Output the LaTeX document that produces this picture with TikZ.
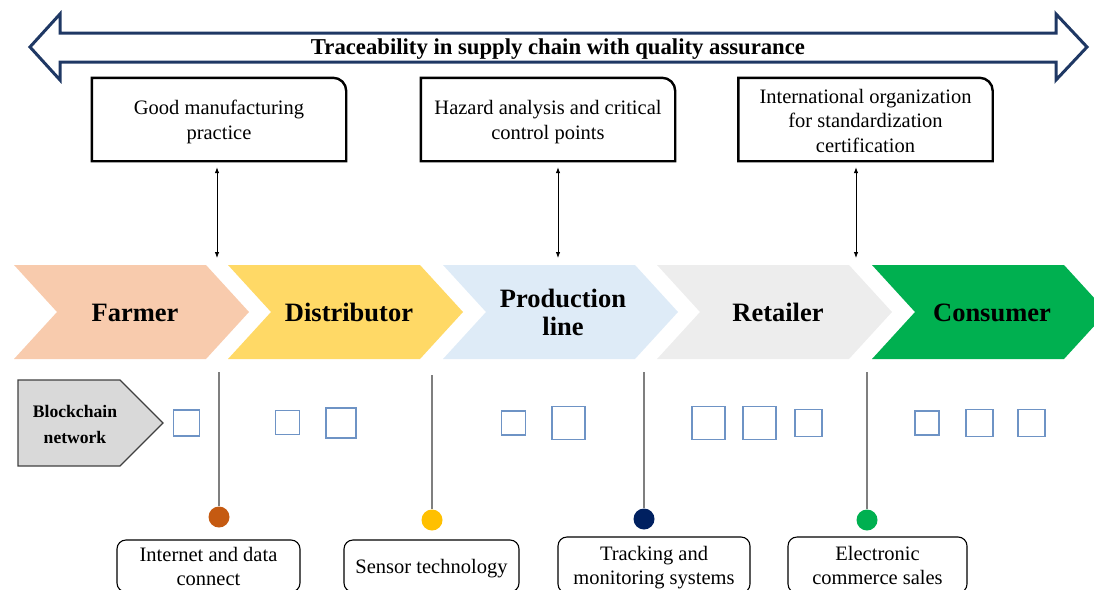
\documentclass[tikz,border=0pt]{standalone}
\usepackage{fontspec}
\setmainfont{Liberation Serif}
\usetikzlibrary{arrows.meta}
\definecolor{navyline}{HTML}{1F3864}
\definecolor{farmerc}{HTML}{F8CBAD}
\definecolor{distc}{HTML}{FFD966}
\definecolor{prodc}{HTML}{DEEBF7}
\definecolor{retailc}{HTML}{EDEDED}
\definecolor{consc}{HTML}{00B050}
\definecolor{sqblue}{HTML}{6E93C5}
\definecolor{glinec}{HTML}{7F7F7F}
\definecolor{bcfill}{HTML}{D9D9D9}
\definecolor{dotA}{HTML}{C55A11}
\definecolor{dotB}{HTML}{FFC000}
\definecolor{dotC}{HTML}{002060}
\definecolor{dotD}{HTML}{00B050}
\begin{document}
\begin{tikzpicture}[x=1pt,y=-1pt,
  topbox/.style={minimum width=254pt,minimum height=83pt,inner sep=0pt,align=center,font=\fontsize{20.5}{24.5}\selectfont},
  boxline/.style={draw=black,line width=2.4pt,line join=miter},
  chevlabel/.style={font=\bfseries\fontsize{26.5}{28}\selectfont,align=center,inner sep=0pt},
  varrow/.style={arrows={Latex[length=6pt,width=4.5pt]-Latex[length=6pt,width=4.5pt]},line width=0.8pt,black},
  sq/.style={draw=sqblue,line width=1.5pt,inner sep=0pt,minimum size=#1},
  gline/.style={draw=glinec,line width=1.3pt},
  dot/.style={circle,inner sep=0pt,minimum size=21pt,draw=none},
  botbox/.style={draw=black,line width=1.1pt,rounded corners=9pt,inner sep=0pt,align=center,font=\fontsize{20.5}{24}\selectfont}
]
\useasboundingbox (0,0) rectangle (1094,589);
\clip (0,0) rectangle (1094,589);

% top double arrow
\draw[navyline,line width=3pt,fill=white,line join=miter]
  (30,47) -- (60,14) -- (60,33) -- (1056,33) -- (1056,14) -- (1087,47)
  -- (1056,80) -- (1056,62) -- (60,62) -- (60,80) -- cycle;
\node[font=\bfseries\fontsize{22.7}{26}\selectfont,inner sep=0pt,anchor=base] (title) at (558,54.5) {Traceability in supply chain with quality assurance};

% top boxes
\node[topbox] (gmp) at (219,119.5) {};
\node[topbox] (haccp) at (548,119.5) {};
\node[topbox] (iso) at (865.5,119.5) {};
\node[topbox,minimum width=0pt,minimum height=0pt] (gmpt) at (219,122) {Good manufacturing\\practice};
\node[topbox,minimum width=0pt,minimum height=0pt] (haccpt) at (548,122) {Hazard analysis and critical\\control points};
\node[topbox,minimum width=0pt,minimum height=0pt] (isot) at (865.5,120.5) {International organization\\for standardization\\certification};
\foreach \b in {gmp,haccp,iso}{
  \draw[boxline] (\b.south west) -- (\b.north west) -- ([xshift=-13pt]\b.north east)
    arc[start angle=90,end angle=0,radius=13pt] -- (\b.south east) -- cycle;
}

% chevrons
\fill[farmerc] (14,265) -- (206,265) -- (249,312) -- (206,359) -- (14,359) -- (57,312) -- cycle;
\fill[distc] (228,265) -- (420,265) -- (463,312) -- (420,359) -- (228,359) -- (271,312) -- cycle;
\fill[prodc] (443,265) -- (635,265) -- (678,312) -- (635,359) -- (443,359) -- (486,312) -- cycle;
\fill[retailc] (657,265) -- (849,265) -- (892,312) -- (849,359) -- (657,359) -- (700,312) -- cycle;
\fill[consc] (872,265) -- (1064,265) -- (1107,312) -- (1064,359) -- (872,359) -- (915,312) -- cycle;
\node[chevlabel] (farmer) at (135,312.5) {Farmer};
\node[chevlabel] (distributor) at (349,312.5) {Distributor};
\node[chevlabel] (production) at (563,312.5) {Production\\line};
\node[chevlabel] (retailer) at (778,312.5) {Retailer};
\node[chevlabel] (consumer) at (992,312.5) {Consumer};

% vertical arrows from standards
\coordinate (ct1) at (217,258);
\coordinate (ct2) at (558,258);
\coordinate (ct3) at (856,258);
\draw[varrow] ([yshift=-6pt]ct1 |- gmp.south) -- (ct1);
\draw[varrow] ([yshift=-6pt]ct2 |- haccp.south) -- (ct2);
\draw[varrow] ([yshift=-6pt]ct3 |- iso.south) -- (ct3);

% blockchain network
\draw[draw=black!75,line width=1.1pt,fill=bcfill,line join=miter]
  (18,380) -- (120,380) -- (163,423) -- (120,466) -- (18,466) -- cycle;
\node[font=\bfseries\fontsize{17.6}{26}\selectfont,align=center,inner sep=0pt] (bc) at (75,424) {Blockchain\\network};

% squares
\node[sq=26pt] (s1) at (186.5,423) {};
\node[sq=24pt] (s2) at (287.5,422.5) {};
\node[sq=30pt] (s3) at (341,423) {};
\node[sq=24pt] (s4) at (513.5,423) {};
\node[sq=33pt] (s5) at (568.5,423) {};
\node[sq=33pt] (s6) at (708.5,423) {};
\node[sq=33pt] (s7) at (759.5,423) {};
\node[sq=27pt] (s8) at (808.5,423) {};
\node[sq=24pt] (s9) at (927,423) {};
\node[sq=27pt] (s10) at (979.5,423) {};
\node[sq=27pt] (s11) at (1031.5,423) {};

% gray lines and dots
\coordinate (cb1) at (219,372);
\coordinate (cb2) at (432,375);
\coordinate (cb3) at (644,372);
\coordinate (cb4) at (867,372);
\node[dot,fill=dotA] (d1) at (219,517) {};
\node[dot,fill=dotB] (d2) at (432,520) {};
\node[dot,fill=dotC] (d3) at (644,519) {};
\node[dot,fill=dotD] (d4) at (867,520) {};
\draw[gline] (cb1) -- (d1);
\draw[gline] (cb2) -- (d2);
\draw[gline] (cb3) -- (d3);
\draw[gline] (cb4) -- (d4);

% bottom boxes
\node[botbox,minimum width=183pt,minimum height=52pt] (tech1) at (208.5,566) {Internet and data\\connect};
\node[botbox,minimum width=175pt,minimum height=52pt] (tech2) at (431.5,566) {};
\node[font=\fontsize{20.5}{24}\selectfont,inner sep=0pt] (tech2t) at (431.5,569) {Sensor technology};
\node[botbox,minimum width=192pt,minimum height=56pt] (tech3) at (654,565) {};
\node[font=\fontsize{20.5}{24}\selectfont,inner sep=0pt,align=center] (tech3t) at (654,568) {Tracking and\\monitoring systems};
\node[botbox,minimum width=179pt,minimum height=56pt] (tech4) at (877.5,565) {Electronic\\commerce sales};
\end{tikzpicture}
\end{document}
